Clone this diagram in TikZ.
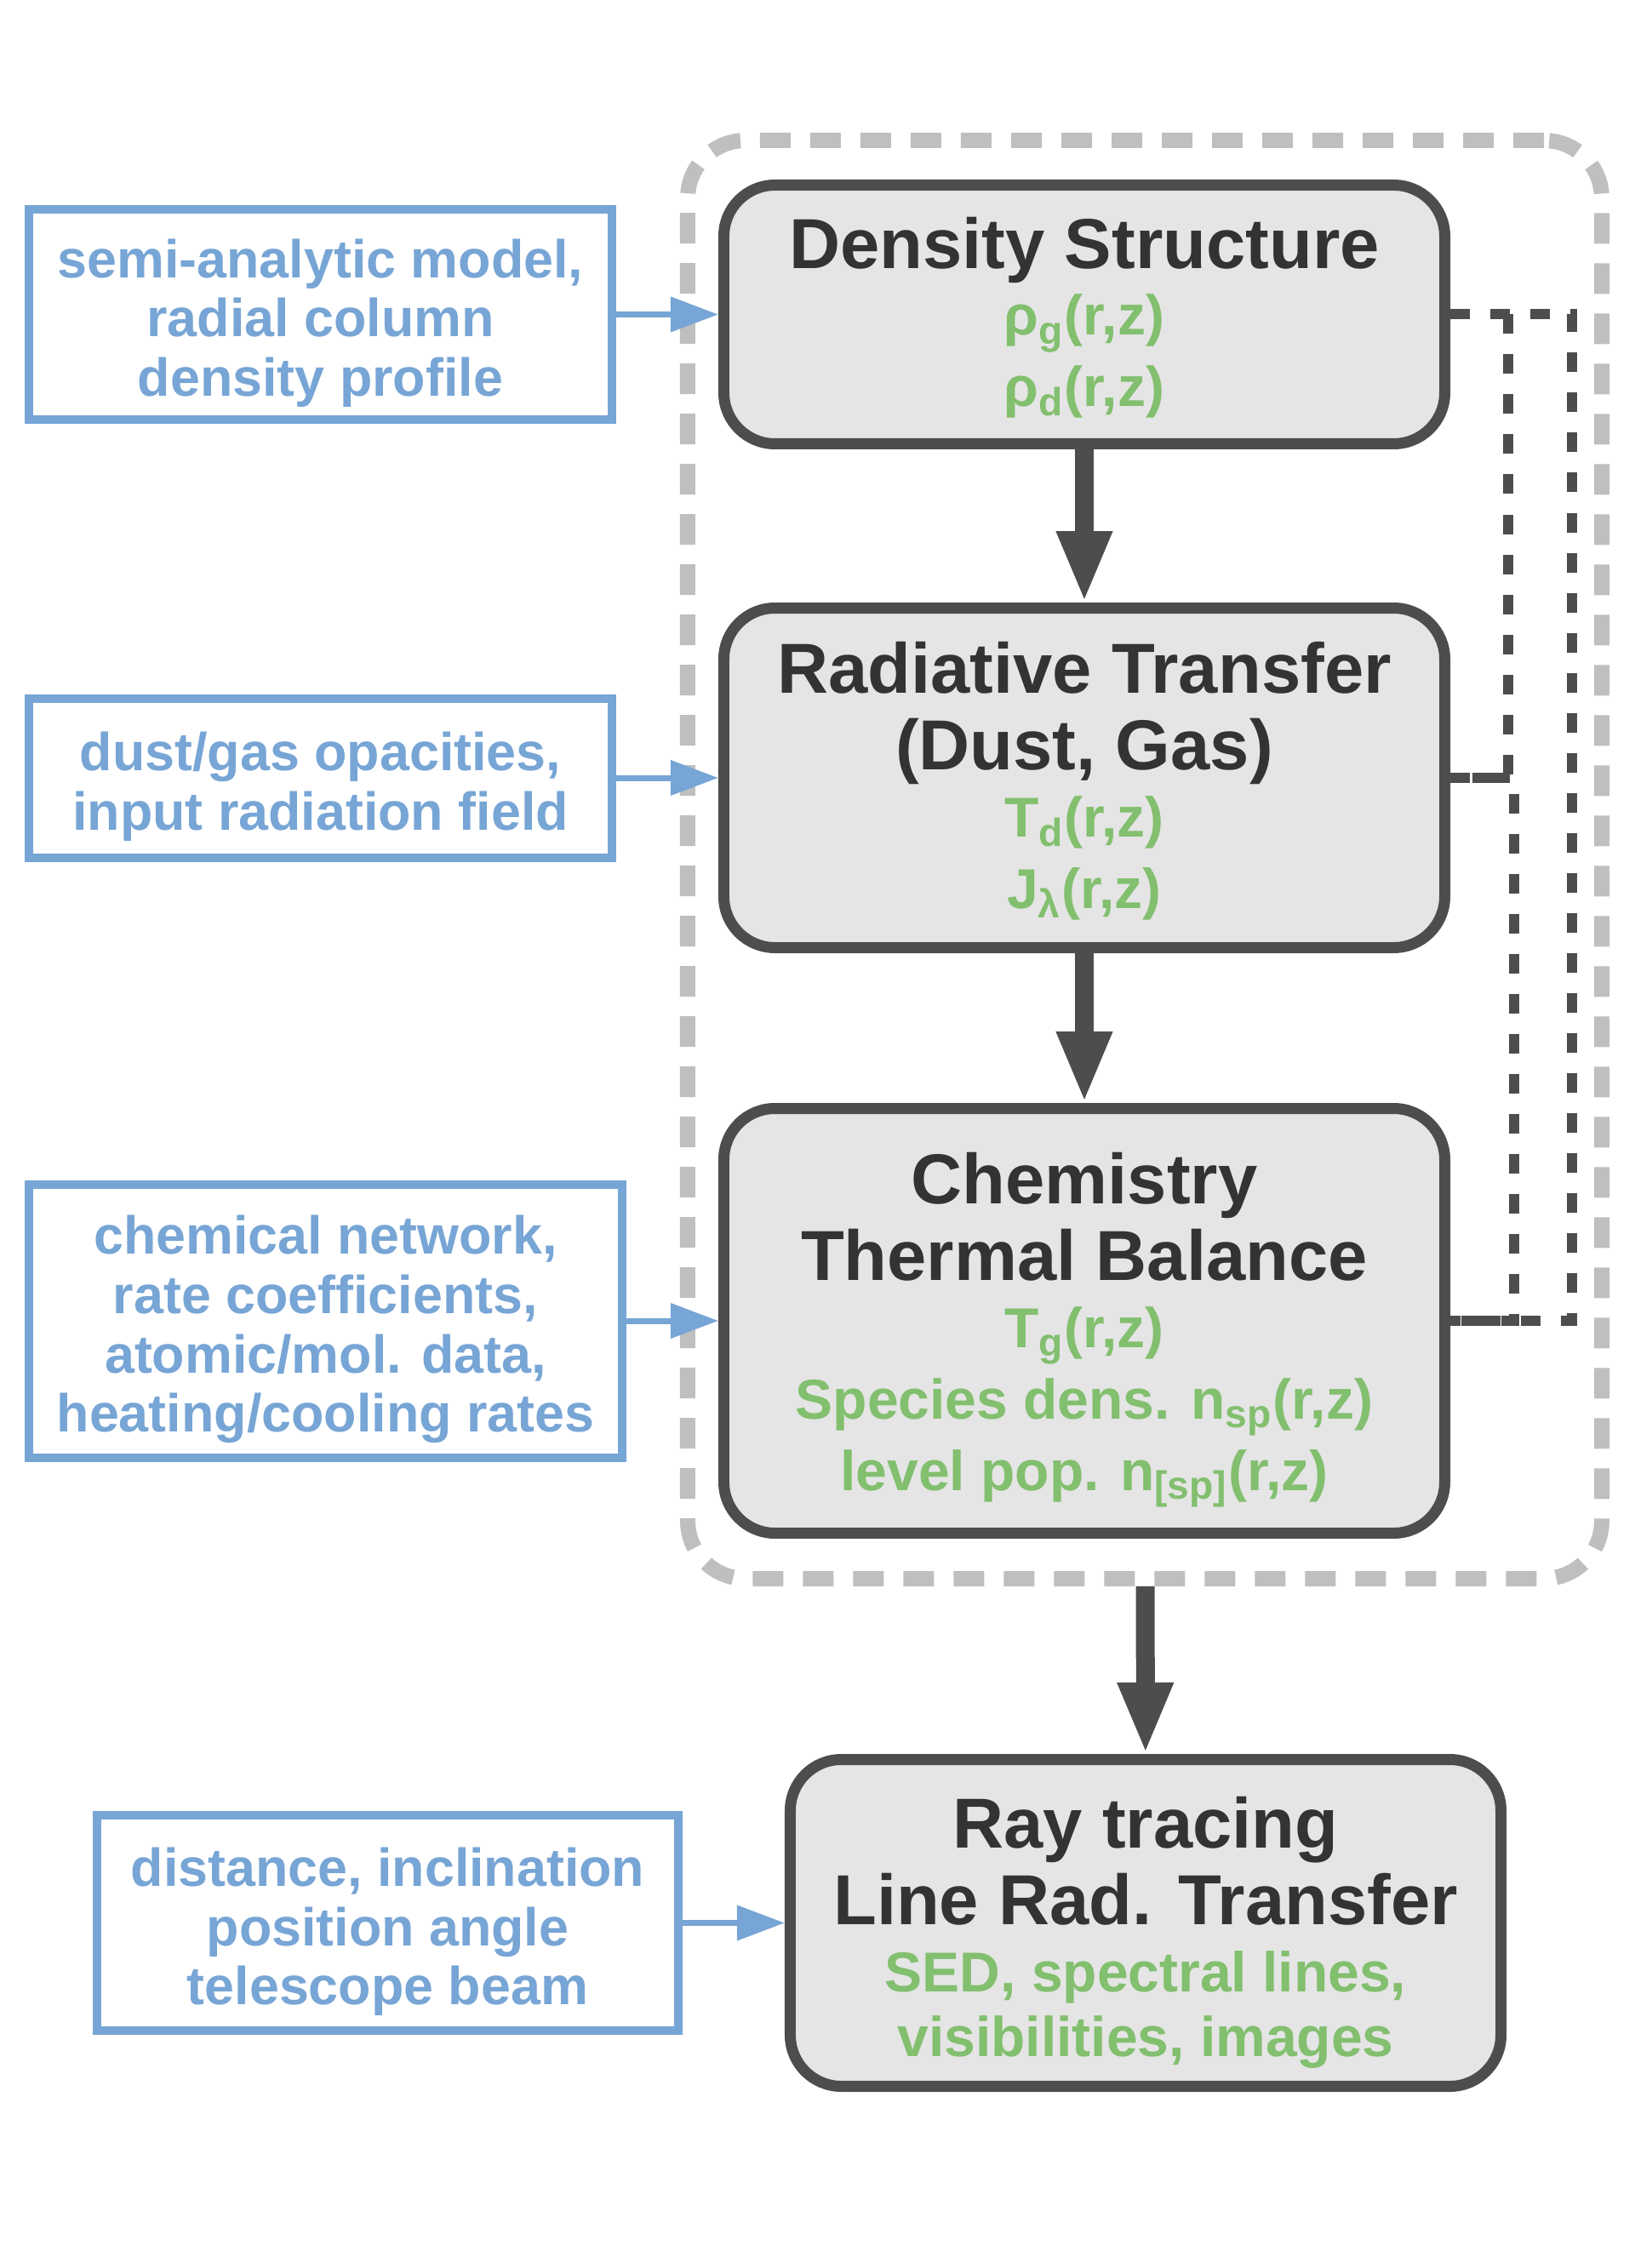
\documentclass[tikz,border=0pt]{standalone}
\usepackage{fontspec}
\setmainfont{Liberation Sans}
\usetikzlibrary{positioning, arrows.meta, fit, calc}
\usepackage{xcolor}

\definecolor{boxgray}{HTML}{E5E5E5}
\definecolor{linegray}{HTML}{4D4D4D}
\definecolor{titlegray}{HTML}{333333}
\definecolor{resultgreen}{HTML}{82BF6E}
\definecolor{inputblue}{HTML}{77A5D5}
\definecolor{framegray}{HTML}{BFBFBF}
\newcommand{\outval}[1]{{\color{resultgreen}\fontsize{16.5}{21}\selectfont #1}}
\newcommand{\topstrut}[1]{\rule{0pt}{#1}}

\begin{document}
\begin{tikzpicture}[
    stage/.style={draw=linegray, line width=3.25pt, rounded corners=15pt, fill=boxgray, minimum width=211.75pt, align=center, text=titlegray, font=\fontsize{20.8}{21}\selectfont\bfseries},
    inbox/.style={draw=inputblue, line width=2.5pt, fill=white, minimum width=171.25pt, align=center, text=inputblue, font=\fontsize{15.7}{17.4}\selectfont\bfseries},
    groupbox/.style={draw=framegray, line width=4.5pt, dash pattern=on 9pt off 5.75pt, rounded corners=17pt, inner sep=0pt},
    flow/.style={-{Triangle[width=15pt, length=21pt]}, line width=5.5pt, draw=linegray},
    feed/.style={-{Triangle[width=10pt, length=14pt]}, line width=1.75pt, draw=inputblue},
    backlink/.style={draw=linegray, line width=3pt, dash pattern=on 5.75pt off 6pt}
]
\useasboundingbox (-318.5pt,92.375pt) rectangle (161.5pt,-573.875pt);

% Nodes
\node[stage, minimum height=76pt] (dens) {\topstrut{17pt}Density Structure\\[-1.5pt] \outval{ρ\textsubscript{g}(r,z)}\\ \outval{ρ\textsubscript{d}(r,z)}};
\node[stage, minimum height=99.75pt, below=45pt of dens] (rad) {\topstrut{17pt}Radiative Transfer\\[1.5pt] (Dust, Gas)\\[-1.25pt] \outval{T\textsubscript{d}(r,z)}\\ \outval{J\textsubscript{λ}(r,z)}};
\node[stage, minimum height=124.75pt, below=44pt of rad] (chem) {\topstrut{20.5pt}Chemistry\\[1.5pt] Thermal Balance\\[-1.25pt] \outval{T\textsubscript{g}(r,z)}\\ \outval{Species dens. n\textsubscript{sp}(r,z)}\\ \outval{level pop. n\textsubscript{[sp]}(r,z)}};
\node[stage, minimum width=208.75pt, minimum height=96pt, below=63.25pt of chem, xshift=18pt] (ray) {\topstrut{20.5pt}Ray tracing\\[1.5pt] Line Rad. Transfer\\[-1.25pt] \outval{SED, spectral lines,}\\[-2pt] \outval{visibilities, images}};

\node[inbox, minimum height=61.75pt, left=30pt of dens] (model) {\topstrut{16.5pt}semi-analytic model,\\ radial column\\ density profile};
\node[inbox, minimum height=46.75pt, left=30pt of rad] (opac) {\topstrut{16.5pt}dust/gas opacities,\\ input radiation field};
\node[inbox, minimum width=174.25pt, minimum height=80.25pt, left=27pt of chem] (network) {\topstrut{16.5pt}chemical network,\\ rate coefficients,\\ atomic/mol. data,\\ heating/cooling rates};
\node[inbox, minimum width=170.75pt, minimum height=63.25pt, left=30pt of ray] (observ) {\topstrut{16.5pt}distance, inclination\\ position angle\\ telescope beam};

% Dashed frame round the iterated part
\coordinate (framenw) at ($(dens.north west)+(-9pt,11.5pt)$);
\coordinate (framese) at ($(chem.south east)+(44.5pt,-11.75pt)$);
\node[groupbox, fit=(framenw)(framese)] (solver) {};

% Edges
\draw[backlink] (dens.east) -- ++(35.75pt,0) |- (chem.east);
\draw[backlink] ($(dens.east)+(17pt,0)$) |- (rad.east);
\draw[backlink] (rad.east) -- ++(18.75pt,0) |- (chem.east);

\draw[flow] (dens) -- (rad);
\draw[flow] (rad) -- (chem);
\draw[flow] (solver) -- (ray);

\draw[feed] (model) -- (dens);
\draw[feed] (opac) -- (rad);
\draw[feed] (network) -- (chem);
\draw[feed] (observ) -- (ray);

\end{tikzpicture}
\end{document}
